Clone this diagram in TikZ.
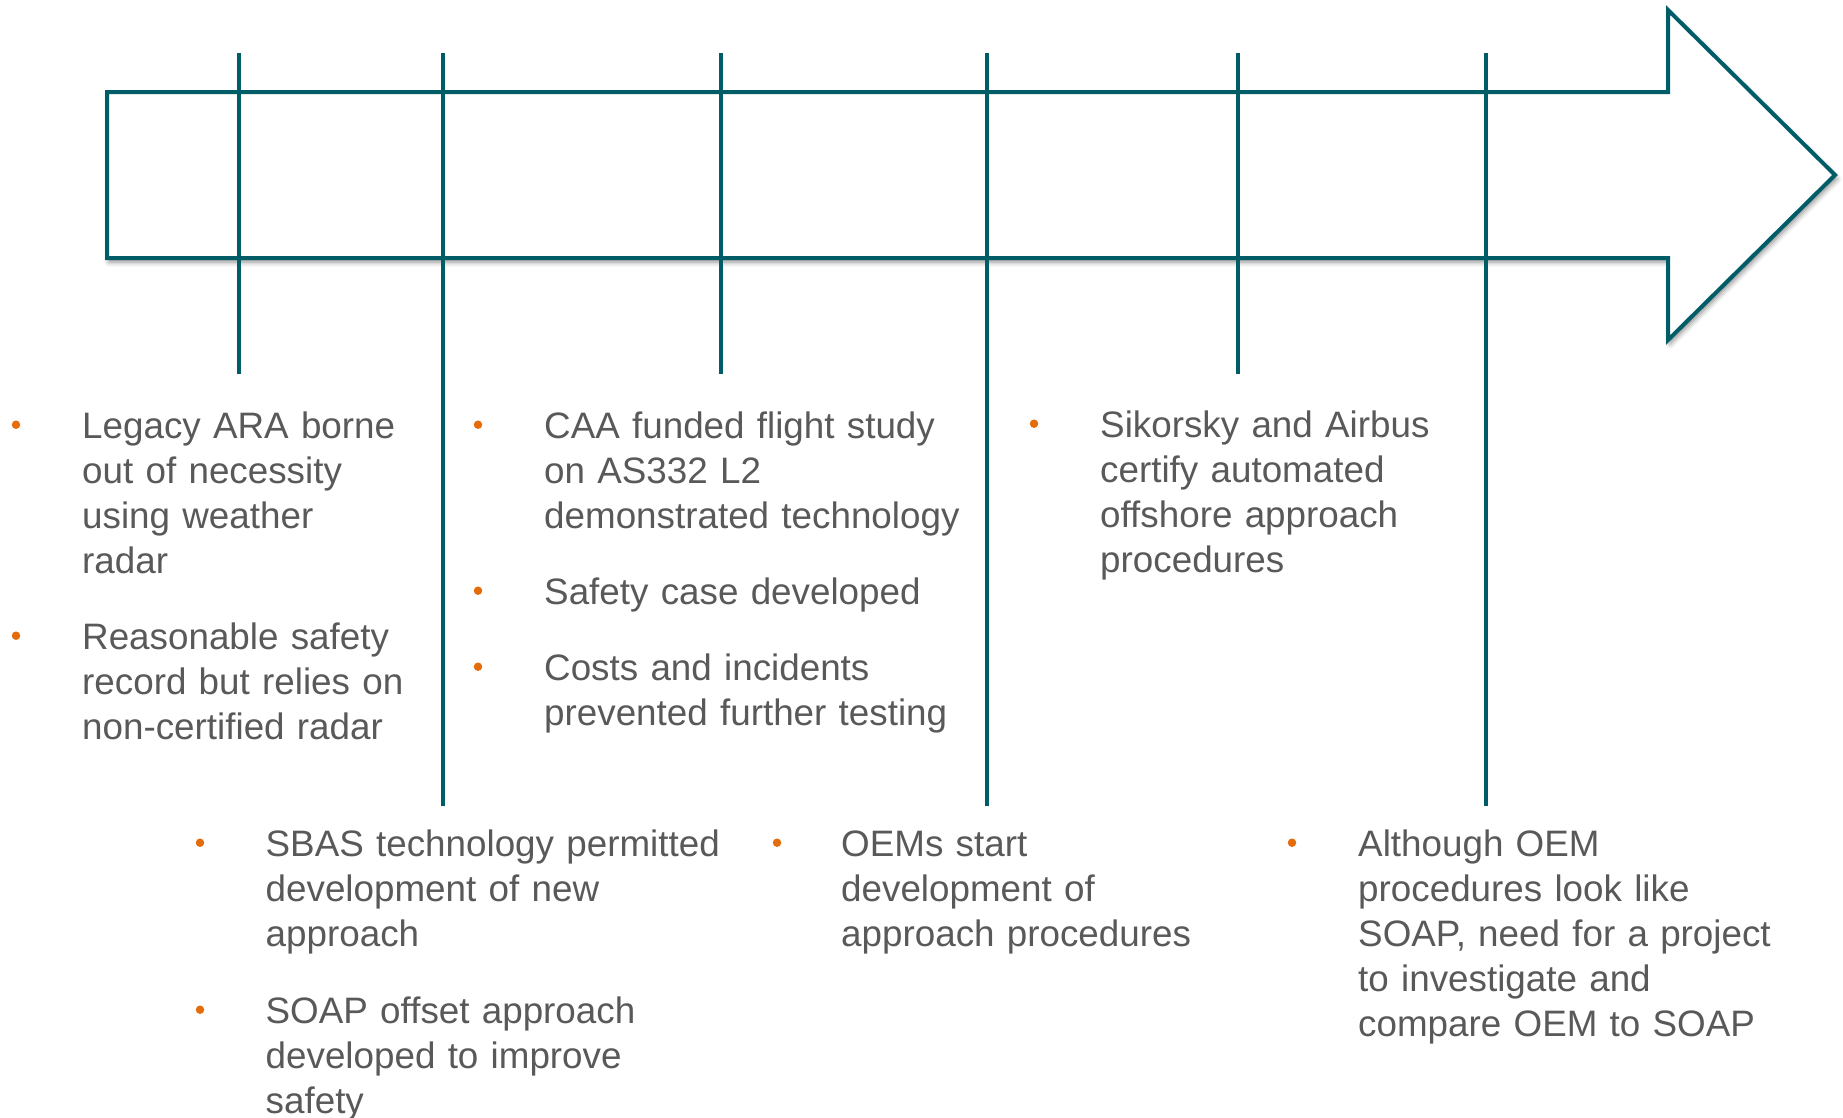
\documentclass[tikz,border=0pt]{standalone}
\usepackage{fontspec}
\setmainfont{Liberation Sans}
\usetikzlibrary{shadows.blur}
\definecolor{teal1}{RGB}{0,92,102}
\definecolor{txtgray}{RGB}{89,89,89}
\definecolor{bulletor}{RGB}{228,108,10}
\begin{document}
\begin{tikzpicture}[x=1pt,y=-1pt,
  tline/.style={draw=teal1, line width=4pt},
  item/.style={anchor=base west, inner sep=0pt, text width=600pt, align=left,
    text=txtgray, font=\fontsize{36.8}{45}\selectfont},
  bul/.style={circle, fill=bulletor, inner sep=0pt, minimum size=8.5pt}]
\useasboundingbox (0,0) rectangle (1843,1117);

% timeline arrow with soft shadow
\path[blur shadow={shadow xshift=2pt, shadow yshift=-4pt, shadow blur radius=5pt, shadow opacity=45}, fill=white]
  (107,92) -- (1668,92) -- (1668,10) -- (1835,175) -- (1668,340) -- (1668,258) -- (107,258) -- cycle;
\draw[tline, line join=miter]
  (107,92) -- (1668,92) -- (1668,10) -- (1835,175) -- (1668,340) -- (1668,258) -- (107,258) -- cycle;

% ticks
\foreach \n/\x/\yb in {t1/239/374, t2/443/806, t3/720.5/374, t4/987/806, t5/1238/374, t6/1486/806}{
  \coordinate (\n a) at (\x,53);
  \coordinate (\n b) at (\x,\yb);
  \draw[tline] (\n a) -- (\n b);
}

% block 1
\node[bul] (b1a) at (16,424.7) {};
\node[item] (i1a) at (82,438) {Legacy ARA borne\\out of necessity\\using weather\\radar};
\node[bul] (b1b) at (16,635.7) {};
\node[item] (i1b) at (82,649) {Reasonable safety\\record but relies on\\non-certified radar};

% block 3
\node[bul] (b3a) at (478,424.7) {};
\node[item] (i3a) at (544,438) {CAA funded flight study\\on AS332 L2\\demonstrated technology};
\node[bul] (b3b) at (478,590.7) {};
\node[item] (i3b) at (544,604) {Safety case developed};
\node[bul] (b3c) at (478,666.7) {};
\node[item] (i3c) at (544,680) {Costs and incidents\\prevented further testing};

% block 5
\node[bul] (b5a) at (1034,423.7) {};
\node[item] (i5a) at (1100,437) {Sikorsky and Airbus\\certify automated\\offshore approach\\procedures};

% block 2
\node[bul] (b2a) at (200,842.7) {};
\node[item] (i2a) at (265.5,856) {SBAS technology permitted\\development of new\\approach};
\node[bul] (b2b) at (200,1009.7) {};
\node[item] (i2b) at (265.5,1023) {SOAP offset approach\\developed to improve\\safety};

% block 4
\node[bul] (b4a) at (777,842.7) {};
\node[item] (i4a) at (841,856) {OEMs start\\development of\\approach procedures};

% block 6
\node[bul] (b6a) at (1292,842.7) {};
\node[item] (i6a) at (1358,856) {Although OEM\\procedures look like\\SOAP, need for a project\\to investigate and\\compare OEM to SOAP};
\end{tikzpicture}
\end{document}
